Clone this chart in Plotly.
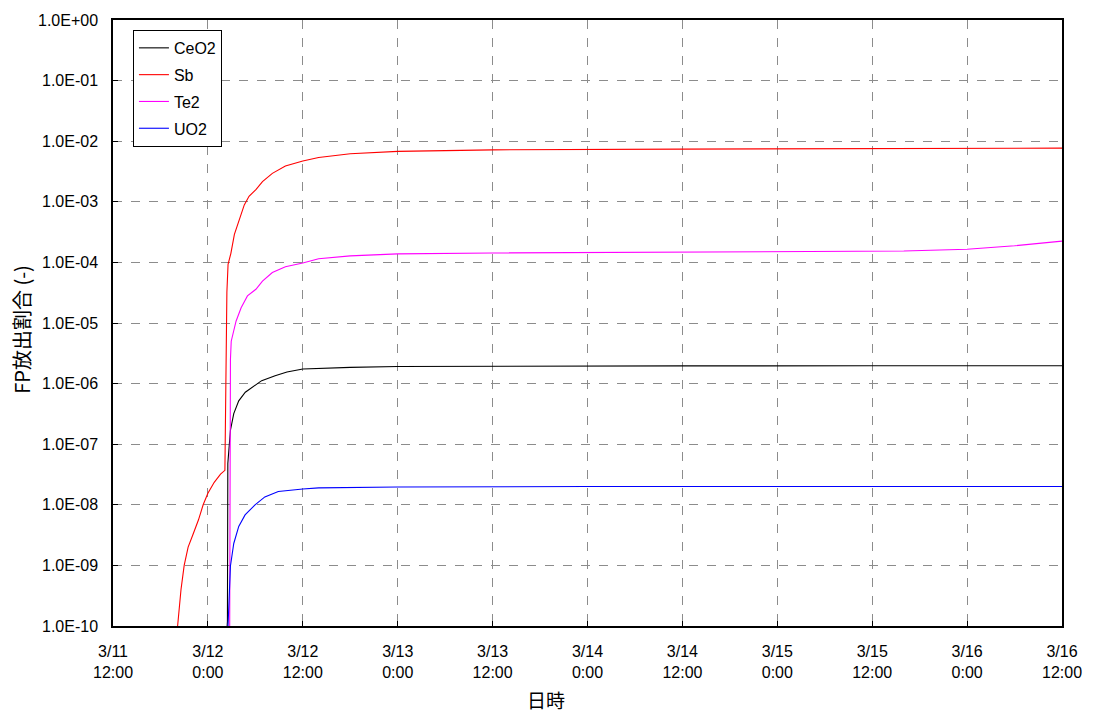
import pandas as pd
import plotly.graph_objects as go

# hours elapsed since 2011-03-11 12:00
ceo2_h = [14.3, 14.42, 14.47, 14.52, 14.64, 14.85, 15.27, 15.9, 16.73, 17.57, 18.8, 20.5, 22.0, 24.0, 26.0, 30.0, 36.0, 48.0, 72.0, 96.0, 120.0]
ceo2_v = [5e-11, 1.1e-10, 1.2e-10, 4.8e-8, 9.1e-8, 1.7e-7, 3.2e-7, 5.2e-7, 7.2e-7, 8.7e-7, 1.12e-6, 1.35e-6, 1.55e-6, 1.74e-6, 1.78e-6, 1.85e-6, 1.92e-6, 1.95e-6, 1.96e-6, 1.97e-6, 1.97e-6]

sb_h = [8.1, 8.3, 8.6, 9.0, 9.5, 10.1, 10.8, 11.4, 12.0, 12.8, 13.6, 14.15, 14.25, 14.4, 14.55, 14.9, 15.35, 16.0, 16.6, 17.2, 18.1, 18.9, 20.15, 21.8, 24.0, 26.0, 30.0, 36.0, 48.0, 72.0, 96.0, 120.0]
sb_v = [8e-11, 1.6e-10, 4.0e-10, 1.0e-9, 2.0e-9, 3.2e-9, 5.6e-9, 1.0e-8, 1.55e-8, 2.35e-8, 3.2e-8, 3.7e-8, 1.0e-6, 3.2e-5, 9.3e-5, 1.4e-4, 2.9e-4, 5.4e-4, 8.9e-4, 1.23e-3, 1.6e-3, 2.15e-3, 2.95e-3, 3.9e-3, 4.7e-3, 5.4e-3, 6.2e-3, 6.8e-3, 7.2e-3, 7.4e-3, 7.5e-3, 7.7e-3]

te2_h = [14.75, 14.8, 14.85, 14.95, 15.14, 15.56, 16.2, 17.0, 18.07, 18.9, 20.15, 21.8, 24.0, 26.0, 30.0, 36.0, 48.0, 72.0, 90.0, 100.0, 108.0, 114.0, 120.0]
te2_v = [5e-11, 2e-8, 2.5e-6, 5.0e-6, 6.6e-6, 1.07e-5, 1.78e-5, 2.8e-5, 3.6e-5, 4.9e-5, 6.8e-5, 8.5e-5, 9.8e-5, 1.15e-4, 1.28e-4, 1.38e-4, 1.43e-4, 1.47e-4, 1.49e-4, 1.54e-4, 1.65e-4, 1.88e-4, 2.24e-4]

uo2_h = [14.45, 14.55, 14.65, 14.85, 15.27, 15.9, 16.7, 17.96, 19.2, 20.9, 24.0, 26.0, 36.0, 60.0, 120.0]
uo2_v = [5e-11, 1.1e-10, 3.1e-10, 9.8e-10, 2.3e-9, 4.4e-9, 6.8e-9, 1.0e-8, 1.35e-8, 1.66e-8, 1.82e-8, 1.9e-8, 1.97e-8, 2.0e-8, 2.0e-8]

series_names = ["CeO2", "Sb", "Te2", "UO2"]
series_colors = ["#000000", "#ff0000", "#ff00ff", "#0000ff"]

x_tick_hours = [0, 12, 24, 36, 48, 60, 72, 84, 96, 108, 120]
x_tick_labels = ["3/11<br>12:00", "3/12<br>0:00", "3/12<br>12:00", "3/13<br>0:00", "3/13<br>12:00",
                 "3/14<br>0:00", "3/14<br>12:00", "3/15<br>0:00", "3/15<br>12:00", "3/16<br>0:00", "3/16<br>12:00"]
y_tick_vals = [1e-10, 1e-9, 1e-8, 1e-7, 1e-6, 1e-5, 1e-4, 1e-3, 1e-2, 1e-1, 1e0]
y_tick_labels = ["1.0E-10", "1.0E-09", "1.0E-08", "1.0E-07", "1.0E-06", "1.0E-05",
                 "1.0E-04", "1.0E-03", "1.0E-02", "1.0E-01", "1.0E+00"]

t0 = pd.Timestamp("2011-03-11 12:00")
def to_time(hours):
    return [t0 + pd.Timedelta(hours=h) for h in hours]

FONT = "Liberation Sans, Arial, sans-serif"
CJK = "Noto Sans CJK JP, " + FONT
L, R, T, B = 113, 29, 17, 88
W, H = 1094, 714
PW, PH = W - L - R, H - T - B

fig = go.Figure()
all_h = [ceo2_h, sb_h, te2_h, uo2_h]
all_v = [ceo2_v, sb_v, te2_v, uo2_v]
for name, col, hh, vv in zip(series_names, series_colors, all_h, all_v):
    fig.add_trace(go.Scatter(x=to_time(hh), y=vv, mode="lines", name=name,
                             legendgroup=name,
                             line=dict(color=col, width=1.1)))

fig.update_layout(
    width=W, height=H,
    margin=dict(l=L, r=R, t=T, b=B),
    paper_bgcolor="white", plot_bgcolor="white",
    font=dict(family=FONT, size=16, color="black"),
    showlegend=True,
    legend=dict(x=(133 - L) / PW, y=1 - (27 - T) / PH, xanchor="left", yanchor="top",
                bordercolor="black", borderwidth=1, bgcolor="white",
                font=dict(size=16), tracegroupgap=3, itemwidth=30),
    annotations=[
        dict(text="日時", x=(547 - L) / PW, y=(H - B - 700) / PH, xref="paper", yref="paper",
             xanchor="center", yanchor="middle", showarrow=False,
             font=dict(size=19, family=CJK)),
        dict(text="FP放出割合 (-)", x=(21 - L) / PW, y=(H - B - 328) / PH, xref="paper", yref="paper",
             xanchor="center", yanchor="middle", showarrow=False, textangle=-90,
             font=dict(size=20, family=CJK)),
    ],
)

fig.update_xaxes(
    type="date",
    range=[t0, t0 + pd.Timedelta(hours=120)],
    tickvals=to_time(x_tick_hours), ticktext=x_tick_labels,
    showgrid=True, gridcolor="#8c8c8c", griddash="dash", gridwidth=1,
    showline=True, linecolor="black", linewidth=1.5, mirror=True,
    ticks="inside", ticklen=5, tickcolor="black", ticklabelstandoff=10,
    zeroline=False, tickfont=dict(size=16),
)
fig.update_yaxes(
    type="log", range=[-10, 0],
    tickvals=y_tick_vals, ticktext=y_tick_labels,
    showgrid=True, gridcolor="#8c8c8c", griddash="dash", gridwidth=1,
    showline=True, linecolor="black", linewidth=1.5, mirror=True,
    ticks="inside", ticklen=5, tickcolor="black", ticklabelstandoff=10,
    zeroline=False, tickfont=dict(size=16),
)

fig.write_html("out.html", config={"displayModeBar": False})
with open("out.html", "r", encoding="utf-8") as f:
    html = f.read()
html = html.replace("<body>", '<body style="margin:0;padding:0;">', 1)
with open("out.html", "w", encoding="utf-8") as f:
    f.write(html)
